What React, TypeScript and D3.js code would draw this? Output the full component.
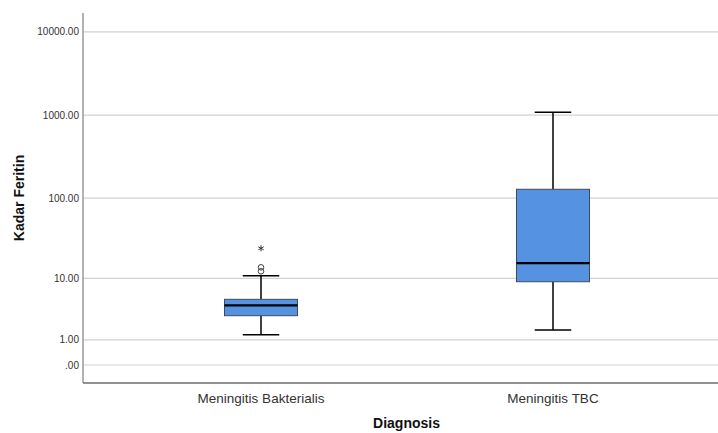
import React from "react";
import * as d3 from "d3";

// Diagnosis groups
const categories = ["Meningitis Bakterialis", "Meningitis TBC"];
// five-number summaries (Kadar Feritin)
const whiskerLow = [1.31, 1.63];
const q1 = [2.91, 9.0];
const median = [4.21, 15.7];
const q3 = [5.15, 128];
const whiskerHigh = [10.8, 1084];
// outliers (circle) and extremes (star), per group
const outliers = [[12.35, 13.9], []];
const extremes = [[24.2], []];
const yTicks = [0, 1, 10, 100, 1000, 10000];

const W = 718;
const H = 433;
const margin = { top: 13, right: 0, bottom: 50, left: 83 };

const fmt = (v: number) => d3.format(".2f")(v).replace(/^0\./, ".");

const App: React.FC = () => {
  const plotBottom = H - margin.bottom;

  const y = d3
    .scaleSymlog()
    .constant(1)
    .domain([-0.645, 16890])
    .range([plotBottom, margin.top]);

  const x = d3.scaleBand().domain(categories).range([115, 699]);
  const boxW = x.bandwidth() * 0.25;
  const capW = boxW / 2;

  const star = d3.symbol(d3.symbolAsterisk, 26)()!;

  return (
    <svg
      width={W}
      height={H}
      style={{ position: "absolute", left: 0, top: 0, background: "#fff" }}
      fontFamily="Liberation Sans, Arial, sans-serif"
    >
      {/* gridlines */}
      {yTicks.map((t) => (
        <line
          key={t}
          x1={margin.left}
          x2={W}
          y1={y(t)}
          y2={y(t)}
          stroke="#d2d2d2"
          strokeWidth={1.2}
        />
      ))}
      {/* y tick labels */}
      {yTicks.map((t) => (
        <text
          key={"l" + t}
          x={margin.left - 4}
          y={y(t)}
          dy="0.35em"
          textAnchor="end"
          fontSize={10}
          fill="#333"
        >
          {fmt(t)}
        </text>
      ))}
      {/* axes */}
      <line
        x1={margin.left}
        x2={margin.left}
        y1={margin.top}
        y2={plotBottom}
        stroke="#8a8a8a"
        strokeWidth={1.3}
      />
      <line
        x1={margin.left}
        x2={W}
        y1={plotBottom}
        y2={plotBottom}
        stroke="#6e6e6e"
        strokeWidth={1.3}
      />

      {categories.map((c, i) => {
        const cx = (x(c) as number) + x.bandwidth() / 2;
        return (
          <g key={c}>
            {/* whiskers */}
            <line x1={cx} x2={cx} y1={y(whiskerLow[i])} y2={y(q1[i])} stroke="#000" strokeWidth={1.5} />
            <line x1={cx} x2={cx} y1={y(q3[i])} y2={y(whiskerHigh[i])} stroke="#000" strokeWidth={1.5} />
            <line x1={cx - capW / 2} x2={cx + capW / 2} y1={y(whiskerLow[i])} y2={y(whiskerLow[i])} stroke="#000" strokeWidth={1.5} />
            <line x1={cx - capW / 2} x2={cx + capW / 2} y1={y(whiskerHigh[i])} y2={y(whiskerHigh[i])} stroke="#000" strokeWidth={1.5} />
            {/* box */}
            <rect
              x={cx - boxW / 2}
              y={y(q3[i])}
              width={boxW}
              height={y(q1[i]) - y(q3[i])}
              fill="#5592e2"
              stroke="#404a57"
              strokeWidth={1}
            />
            <line x1={cx - boxW / 2} x2={cx + boxW / 2} y1={y(median[i])} y2={y(median[i])} stroke="#000" strokeWidth={2.2} />
            {outliers[i].map((v, j) => (
              <circle key={j} cx={cx} cy={y(v)} r={2.8} fill="none" stroke="#444" strokeWidth={1} />
            ))}
            {extremes[i].map((v, j) => (
              <path key={j} d={star} transform={`translate(${cx},${y(v)})`} fill="none" stroke="#333" strokeWidth={1} />
            ))}
            <text x={cx} y={plotBottom + 20} textAnchor="middle" fontSize={13.5} fill="#333">
              {c}
            </text>
          </g>
        );
      })}

      {/* axis titles */}
      <text x={406.5} y={H - 5} textAnchor="middle" fontSize={14} fontWeight="bold" fill="#111">
        Diagnosis
      </text>
      <text
        transform={`translate(24,${(margin.top + plotBottom) / 2}) rotate(-90)`}
        textAnchor="middle"
        fontSize={14}
        fontWeight="bold"
        fill="#111"
      >
        Kadar Feritin
      </text>
    </svg>
  );
};

export default App;
